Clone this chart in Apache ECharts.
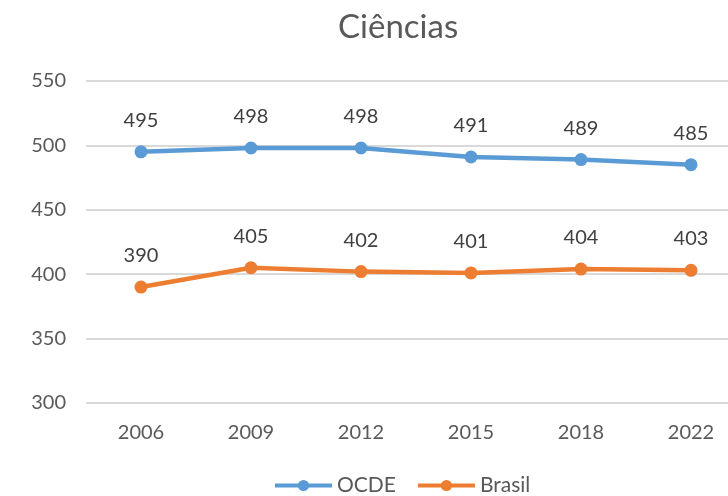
<!DOCTYPE html>
<html>
<head>
<meta charset="utf-8">
<script src="https://cdn.jsdelivr.net/npm/echarts@6/dist/echarts.min.js"></script>
<style>
html,body{margin:0;padding:0;background:#fff;overflow:hidden;}
#chart{width:746px;height:496px;}
</style>
</head>
<body>
<div id="chart"></div>
<script>
var anos = ['2006', '2009', '2012', '2015', '2018', '2022'];
var ocde = [495, 498, 498, 491, 489, 485];
var brasil = [390, 405, 402, 401, 404, 403];

var fonte = 'Lato, "Open Sans", sans-serif';
var myChart = echarts.init(document.getElementById('chart'));
var options = {
	title: {
		text: 'Ciências',
		left: 333,
		top: 6,
		textStyle: { fontFamily: fonte, fontSize: 33, fontWeight: 'normal', color: '#595959' }
	},
	legend: {
		data: ['OCDE', 'Brasil'],
		left: 273,
		top: 475,
		padding: 0,
		itemWidth: 57,
		itemHeight: 14,
		itemGap: 20,
		lineStyle: { width: 4 },
		textStyle: { fontFamily: fonte, fontSize: 21, color: '#595959' }
	},
	grid: { left: 86, right: 0, top: 81, bottom: 93 },
	xAxis: {
		type: 'category',
		data: anos,
		axisLine: { show: false },
		axisTick: { show: false },
		axisLabel: { fontFamily: fonte, fontSize: 20, color: '#595959', margin: 20 }
	},
	yAxis: {
		type: 'value',
		min: 300,
		max: 550,
		interval: 50,
		axisLabel: { fontFamily: fonte, fontSize: 20, color: '#595959', margin: 20 },
		splitLine: { lineStyle: { color: '#d9d9d9', width: 2 } }
	},
	series: [{
		name: 'OCDE',
		type: 'line',
		data: ocde,
		symbol: 'circle',
		symbolSize: 13,
		color: '#5b9bd5',
		lineStyle: { width: 4.5 },
		label: { show: true, position: 'top', distance: 15, fontFamily: fonte, fontSize: 20, color: '#404040' }
	}, {
		name: 'Brasil',
		type: 'line',
		data: brasil,
		symbol: 'circle',
		symbolSize: 13,
		color: '#ed7d31',
		lineStyle: { width: 4.5 },
		label: { show: true, position: 'top', distance: 15, fontFamily: fonte, fontSize: 20, color: '#404040' }
	}]
};
myChart.setOption(options);
</script>
</body>
</html>
